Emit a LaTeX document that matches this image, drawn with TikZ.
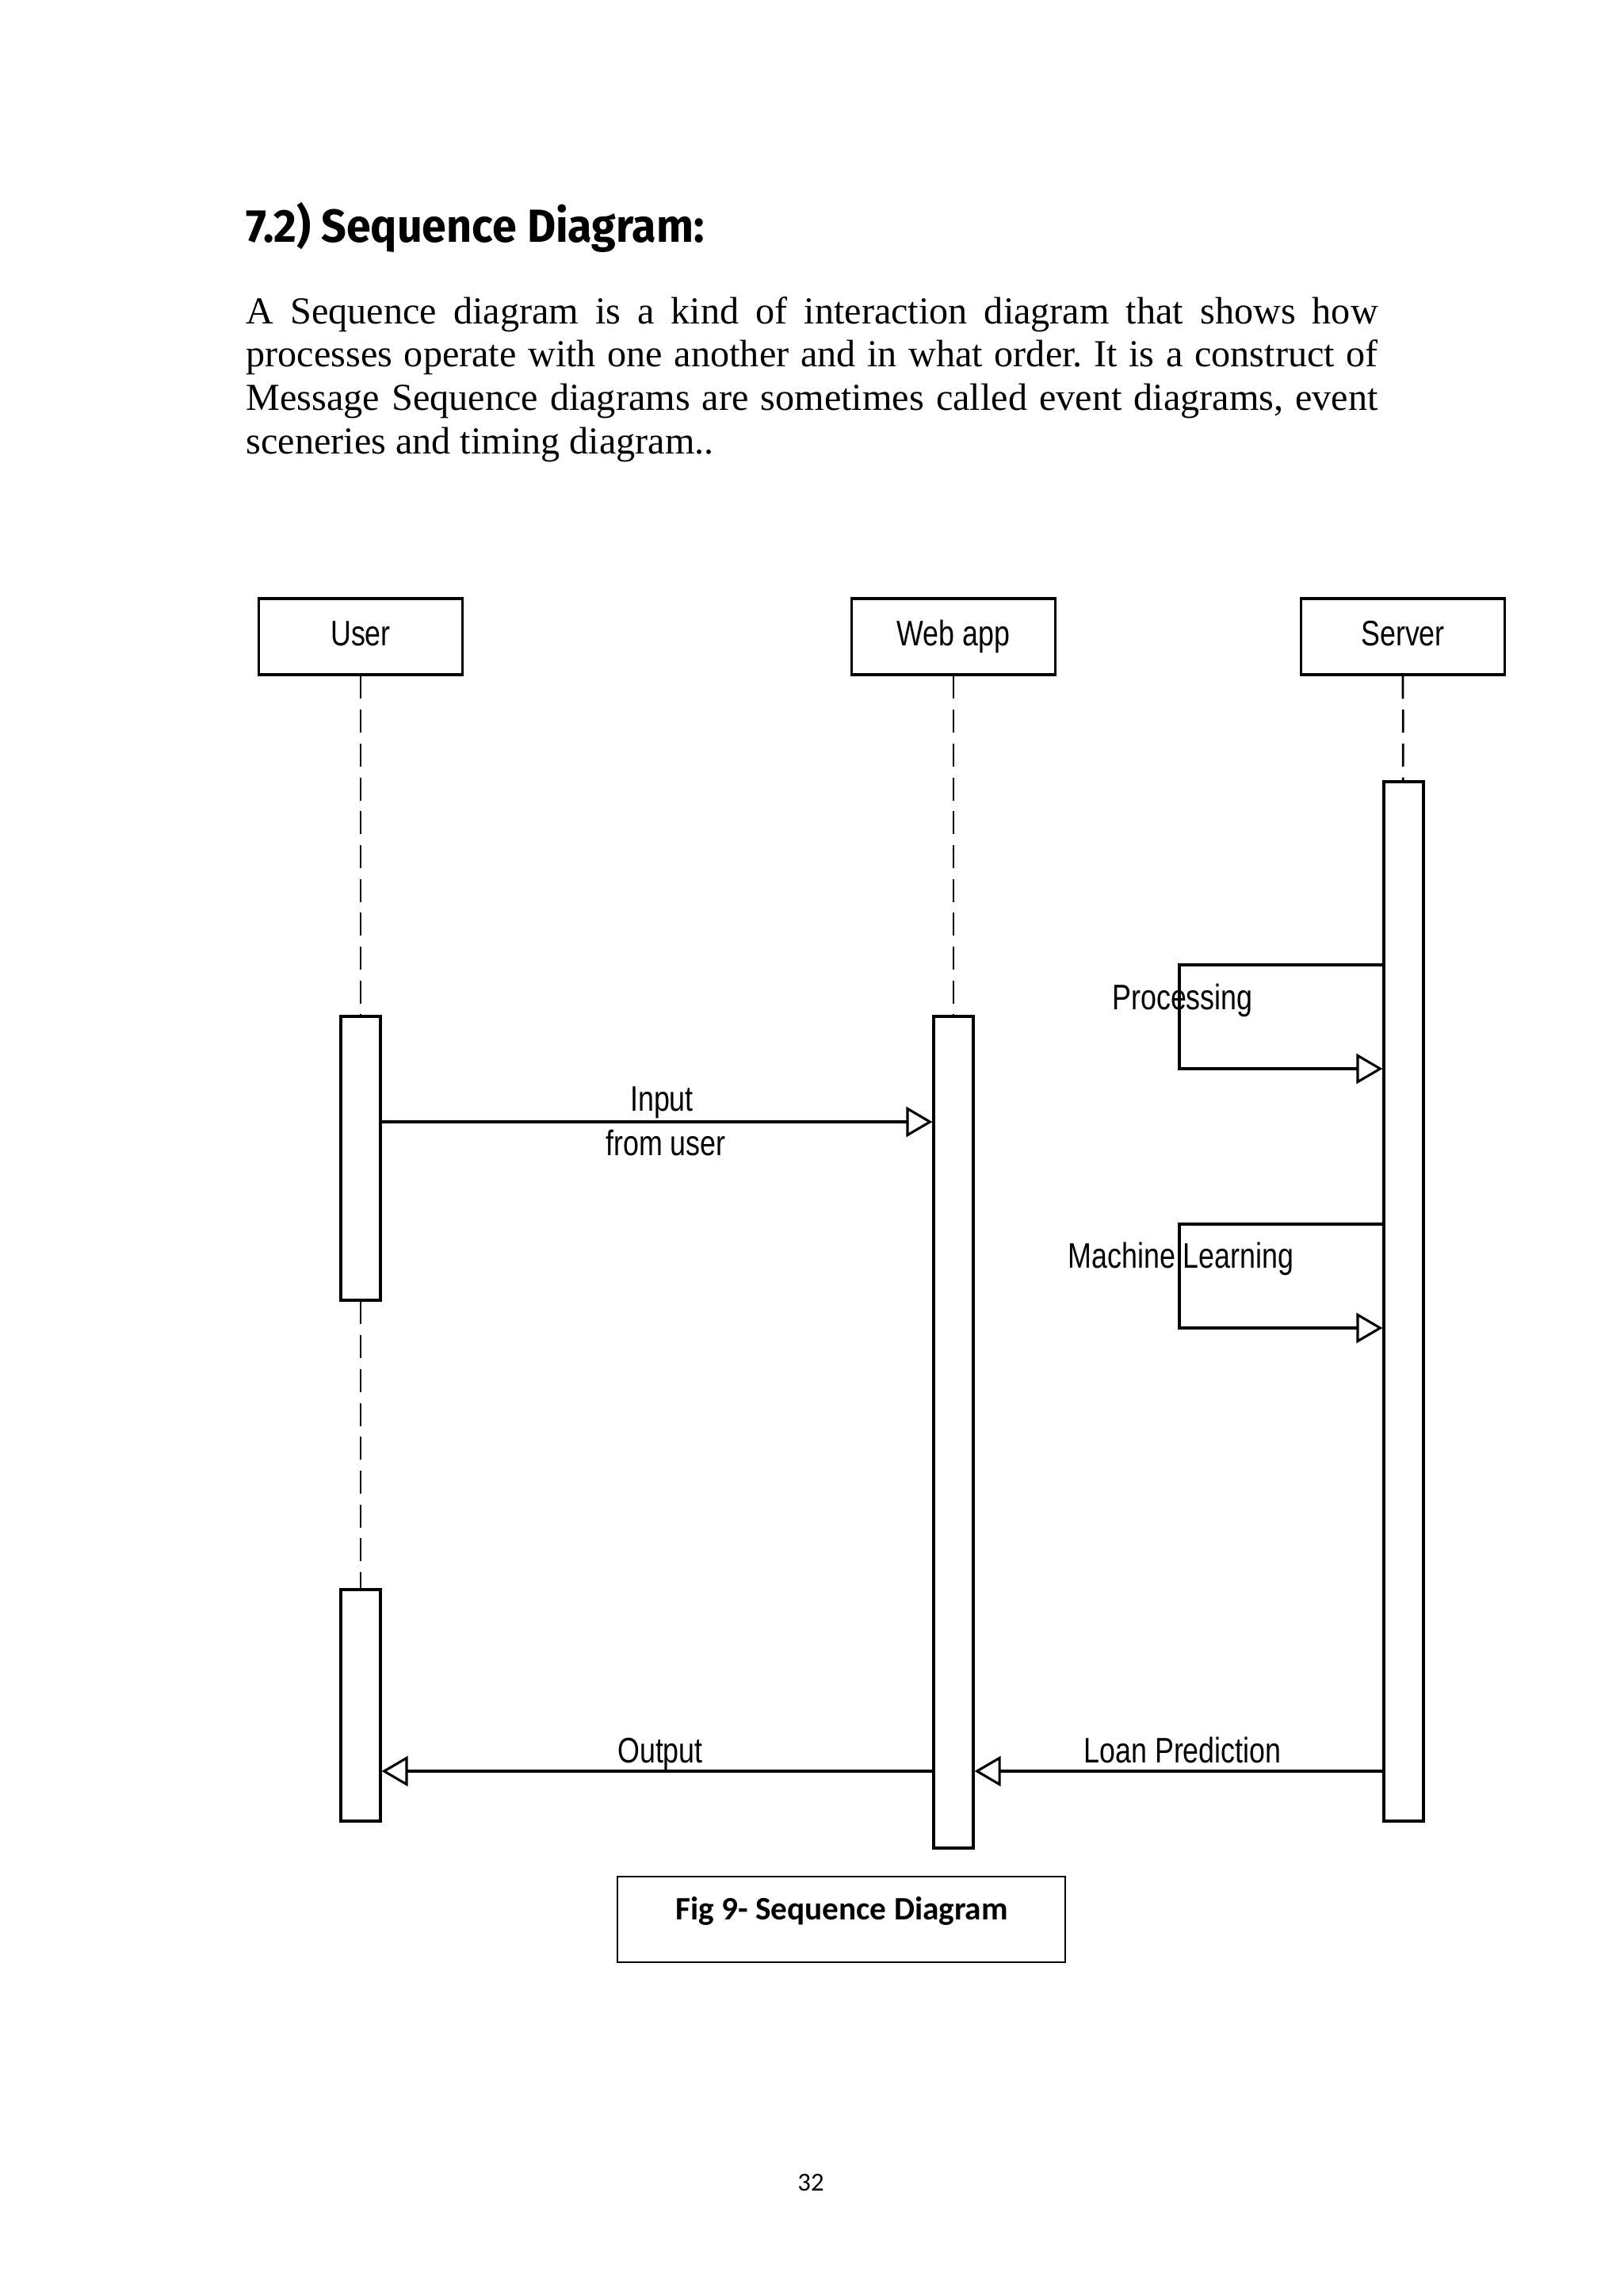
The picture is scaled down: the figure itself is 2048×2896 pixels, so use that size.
\documentclass[tikz,border=0pt]{standalone}
\usepackage{fontspec}
\usetikzlibrary{arrows.meta}
\setmainfont{Liberation Serif}
\newfontfamily\umlfont[FakeStretch=0.8]{Liberation Sans}
\newfontfamily\headfont[FakeStretch=0.95]{Fira Sans}
\newfontfamily\capfont{Carlito}
\tolerance=10000
\hyphenpenalty=10000
\frenchspacing
% one unit of the picture is one pixel of the page
\newcommand{\px}{0.29054pt}
\newcommand{\umlsize}{\umlfont\fontsize{13}{15}\selectfont}
\tikzset{
  participant/.style={draw, line width=0.9pt, minimum width=257*\px, minimum height=96*\px, inner sep=0pt, text height=9.4pt, text depth=3pt, font=\umlsize},
  activation/.style={draw, line width=0.9pt, fill=white, minimum width=50*\px, inner sep=0pt},
  lifeline/.style={line width=0.8pt, dash pattern=on 8.4pt off 4pt},
  msg/.style={line width=0.9pt, -{Triangle[open, length=9.6pt, width=11pt]}},
  msglabel/.style={font=\umlsize, inner sep=0pt}
}

\begin{document}
\begin{tikzpicture}[x=\px, y=-\px]
\useasboundingbox (0,0) rectangle (2048,2896);
\node[anchor=base west, inner sep=0pt, font=\headfont\bfseries\fontsize{17}{20}\selectfont] (title) at (310,305) {7.2) Sequence Diagram:};
\node[anchor=base west, inner sep=0pt, text width=414.9pt, align=justify, font=\fontsize{14}{15.9}\selectfont] (intro) at (310,408)
  {A Sequence diagram is a kind of interaction diagram that shows how\linebreak
   processes operate with one another and in what order. It is a construct of\linebreak
   Message Sequence diagrams are sometimes called event diagrams, event\linebreak
   sceneries and timing diagram..};

% participants and activation bars
\foreach \name/\x/\txt in {user/455/User, webapp/1203/Web app, server/1770/Server}
  \node[participant] (\name) at (\x,803) {\txt};
\node[activation, minimum height=358*\px] (useract1) at (455,1461) {};
\node[activation, minimum height=292*\px] (useract2) at (455,2151) {};
\node[activation, minimum height=1049*\px] (webact) at (1203,1806.5) {};
\node[activation, minimum height=1311*\px] (serveract) at (1771,1641.5) {};

\draw[lifeline] (user) -- (useract1);
\draw[lifeline] (useract1) -- (useract2);
\draw[lifeline] (webapp) -- (webact);
\draw[lifeline] (server) -- (serveract);

% messages
\coordinate (input) at (0,1415);
\coordinate (reply) at (0,2234);
\coordinate (proctop) at (1488,1217);
\coordinate (procbot) at (1488,1348);
\coordinate (mltop) at (1488,1544);
\coordinate (mlbot) at (1488,1675);
\draw[msg] (useract1.east |- input) -- (webact.west |- input);
\draw[msg] (serveract.west |- proctop) -- (proctop) -- (procbot) -- (serveract.west |- procbot);
\draw[msg] (serveract.west |- mltop) -- (mltop) -- (mlbot) -- (serveract.west |- mlbot);
\draw[msg] (webact.west |- reply) -- (useract2.east |- reply);
\draw[msg] (serveract.west |- reply) -- (webact.east |- reply);

\node[msglabel] (inputlbl) at (835,1391) {Input};
\node[msglabel] (fromlbl) at (840,1442) {from user};
\node[msglabel] (proclbl) at (1492,1262) {Processing};
\node[msglabel] (mllbl) at (1490,1588) {Machine Learning};
\node[msglabel] (outlbl) at (833,2212) {Output};
\node[msglabel] (loanlbl) at (1492,2207) {Loan Prediction};

% caption and page number
\node[draw, line width=0.8pt, minimum width=565*\px, minimum height=108*\px] (figbox) at (1061.5,2421) {};
\node[font=\capfont\bfseries\fontsize{12}{14}\selectfont] (figcap) at (1062,2410) {Fig 9- Sequence Diagram};
\node[font=\capfont\fontsize{9.5}{11}\selectfont] (pagenum) at (1023,2753) {32};
\end{tikzpicture}
\end{document}
